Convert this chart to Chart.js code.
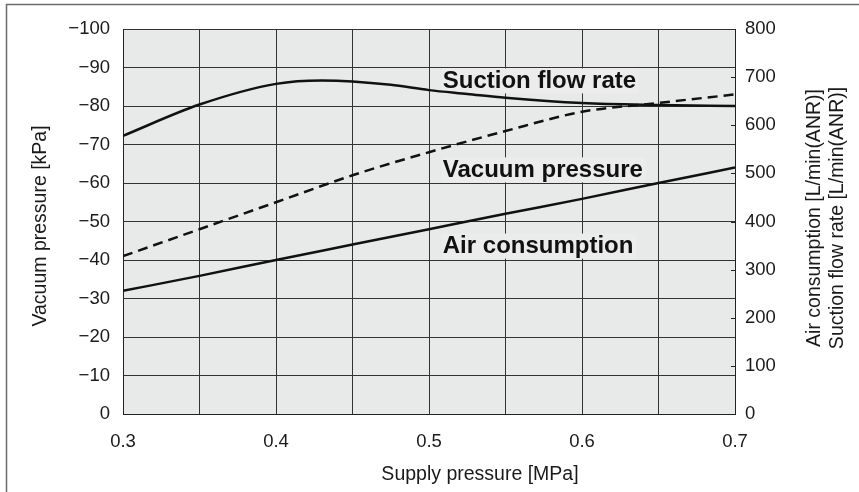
<!DOCTYPE html>
<html>
<head>
<meta charset="utf-8">
<script src="https://cdn.jsdelivr.net/npm/chart.js@4.4.0/dist/chart.umd.min.js"></script>
<style>
  html, body { margin: 0; padding: 0; background: #fff; }
  #chart { display: block; }
</style>
</head>
<body>
<canvas id="chart" width="859" height="492"></canvas>
<script>
// supply pressure [MPa]
const pressure = [0.3, 0.35, 0.4, 0.45, 0.5, 0.55, 0.6, 0.65, 0.7];
// vacuum pressure [kPa] (left axis)
const vacuumPressure = [-41, -48, -55, -62, -68, -73.5, -78.5, -80.8, -83];
// air consumption [L/min(ANR)] (right axis)
const airConsumption = [256, 287, 320, 352, 384, 416, 447, 480, 512];
// suction flow rate [L/min(ANR)] (right axis), a few extra points round the hump
const suctionPressure = [0.3, 0.35, 0.4, 0.43, 0.45, 0.475, 0.5, 0.525, 0.55, 0.6, 0.65, 0.7];
const suctionFlow = [578, 643, 686, 693, 691, 684, 673, 665, 657, 646, 642, 640];

const xTickLabels = [0.3, 0.4, 0.5, 0.6, 0.7];
const curveNames = ["Suction flow rate", "Vacuum pressure", "Air consumption"];

const FONT = '"Liberation Sans", Arial, Helvetica, sans-serif';

function toPoints(xs, ys) {
  return ys.map((y, i) => ({ x: xs[i], y: y }));
}

// plot background, frame, curve labels, right ticks and axis titles
const decor = {
  id: "decor",
  beforeDraw(chart) {
    const { ctx, chartArea: a } = chart;
    ctx.save();
    ctx.fillStyle = "#e8e9e9";
    ctx.fillRect(a.left, a.top, a.right - a.left, a.bottom - a.top);
    ctx.strokeStyle = "#6b6b6b";
    ctx.lineWidth = 1.5;
    ctx.beginPath();
    ctx.moveTo(6.5, 492);
    ctx.lineTo(6.5, 4.5);
    ctx.lineTo(859, 4.5);
    ctx.stroke();
    ctx.restore();
  },
  beforeDatasetsDraw(chart, args, opts) {
    const { ctx, chartArea: a, scales } = chart;
    ctx.save();
    // small inward ticks on the right axis
    ctx.strokeStyle = "#222";
    ctx.lineWidth = 1;
    for (let v = 100; v < 800; v += 100) {
      const y = Math.round(scales.y1.getPixelForValue(v)) + 0.5;
      ctx.beginPath();
      ctx.moveTo(a.right - 4, y);
      ctx.lineTo(a.right, y);
      ctx.stroke();
    }
    // curve labels with a box that hides the grid
    ctx.font = "bold 24px " + FONT;
    ctx.textBaseline = "alphabetic";
    opts.labels.forEach((l, i) => {
      const x = scales.x.getPixelForValue(l.x);
      const y = scales.y.getPixelForValue(l.y);
      const w = ctx.measureText(curveNames[i]).width;
      ctx.fillStyle = "#ececec";
      ctx.fillRect(x - 1, y - 19.5, w + 4, 25);
      ctx.fillStyle = "#111";
      ctx.fillText(curveNames[i], x, y);
    });
    ctx.restore();
  },
  afterDraw(chart) {
    const { ctx } = chart;
    ctx.save();
    ctx.fillStyle = "#1a1a1a";
    ctx.font = "19.5px " + FONT;
    ctx.textAlign = "center";
    ctx.textBaseline = "middle";
    ctx.fillText("Supply pressure [MPa]", 480, 475);

    ctx.translate(41, 226);
    ctx.rotate(-Math.PI / 2);
    ctx.fillText("Vacuum pressure [kPa]", 0, 0);
    ctx.restore();

    ctx.save();
    ctx.fillStyle = "#1a1a1a";
    ctx.font = "19.5px " + FONT;
    ctx.textAlign = "center";
    ctx.textBaseline = "middle";
    ctx.translate(815, 218);
    ctx.rotate(-Math.PI / 2);
    ctx.fillText("Air consumption [L/min(ANR)]", 0, 0);
    ctx.fillText("Suction flow rate [L/min(ANR)]", 0, 23);
    ctx.restore();
  }
};

const lineStyle = {
  borderColor: "#111",
  borderWidth: 2.5,
  pointRadius: 0,
  cubicInterpolationMode: "monotone",
  fill: false
};

new Chart(document.getElementById("chart"), {
  type: "line",
  data: {
    datasets: [
      Object.assign({ label: curveNames[0], yAxisID: "y1", data: toPoints(suctionPressure, suctionFlow) }, lineStyle),
      Object.assign({ label: curveNames[1], yAxisID: "y", data: toPoints(pressure, vacuumPressure), borderDash: [10, 6] }, lineStyle),
      Object.assign({ label: curveNames[2], yAxisID: "y1", data: toPoints(pressure, airConsumption) }, lineStyle)
    ]
  },
  options: {
    responsive: false,
    animation: false,
    devicePixelRatio: 1,
    layout: { padding: { top: 29, left: 0, right: 0, bottom: 0 } },
    plugins: {
      legend: { display: false },
      tooltip: { enabled: false },
      decor: {
        labels: [
          { x: 0.509, y: -84.7 },
          { x: 0.509, y: -61.6 },
          { x: 0.509, y: -41.8 }
        ]
      }
    },
    scales: {
      x: {
        type: "linear",
        min: 0.3,
        max: 0.7,
        afterFit: (s) => { s.height = 78; },
        grid: { color: "#333", lineWidth: 1, drawTicks: false },
        border: { color: "#222", width: 1 },
        ticks: {
          stepSize: 0.05,
          padding: 17,
          color: "#1a1a1a",
          font: { family: FONT, size: 18.5 },
          maxRotation: 0,
          autoSkip: false,
          callback: (v) => {
            const r = Math.round(v * 100) / 100;
            return xTickLabels.includes(r) ? r.toFixed(1) : "";
          }
        }
      },
      y: {
        position: "left",
        min: -100,
        max: 0,
        reverse: true,
        afterFit: (s) => { s.width = 123; },
        grid: { color: "#333", lineWidth: 1, drawTicks: false },
        border: { color: "#222", width: 1 },
        ticks: {
          stepSize: 10,
          padding: 13,
          color: "#1a1a1a",
          font: { family: FONT, size: 18.5 },
          callback: (v) => (v === 0 ? "0" : "\u2212" + Math.abs(v))
        }
      },
      y1: {
        position: "right",
        min: 0,
        max: 800,
        afterFit: (s) => { s.width = 124; },
        grid: { display: false, drawTicks: false },
        border: { color: "#222", width: 1 },
        ticks: {
          stepSize: 100,
          padding: 10,
          color: "#1a1a1a",
          font: { family: FONT, size: 18.5 }
        }
      }
    }
  },
  plugins: [decor]
});
</script>
</body>
</html>
